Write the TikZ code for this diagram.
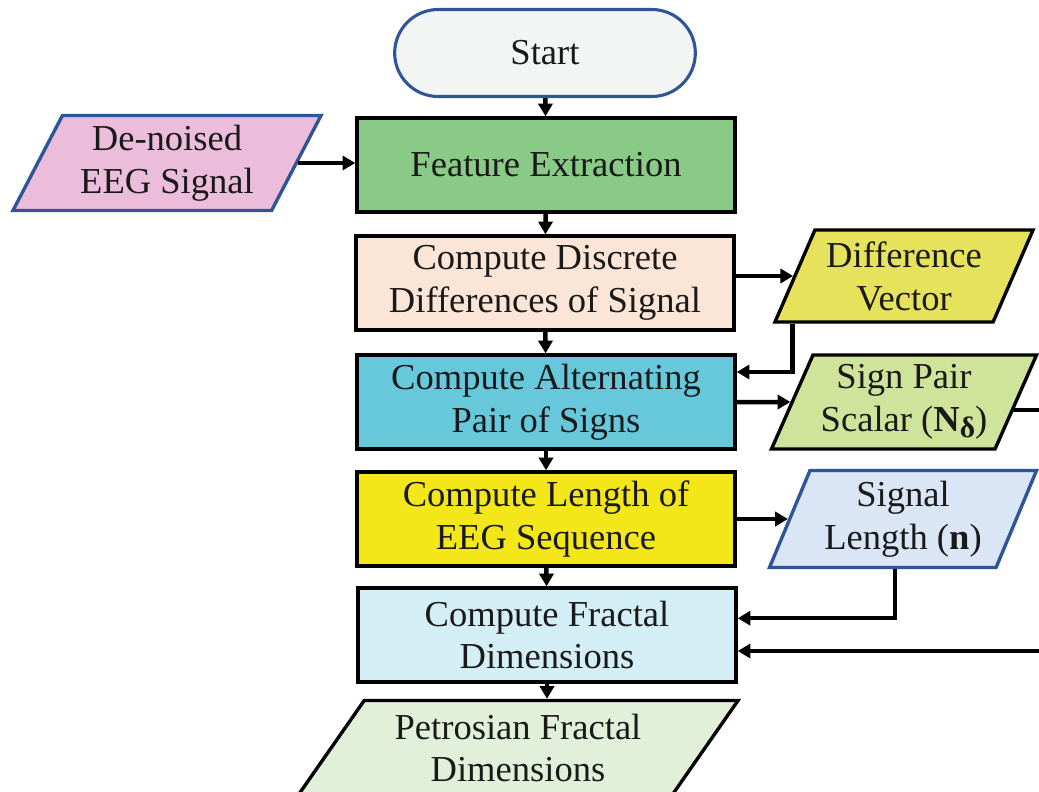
\documentclass[tikz,border=0pt]{standalone}
\usepackage{fontspec}
\setmainfont{Liberation Serif}
\usetikzlibrary{shapes.geometric,shapes.misc,arrows.meta}
\definecolor{edgeblue}{HTML}{2F5597}
\definecolor{startfill}{HTML}{F3F5F5}
\definecolor{pinkfill}{HTML}{EBBDDA}
\definecolor{greenfill}{HTML}{89CA86}
\definecolor{peachfill}{HTML}{FBE5D6}
\definecolor{olivefill}{HTML}{E6E25C}
\definecolor{cyanfill}{HTML}{67C8DC}
\definecolor{limefill}{HTML}{CFE39A}
\definecolor{yellowfill}{HTML}{F3E71A}
\definecolor{skyfill}{HTML}{DAE5F5}
\definecolor{icefill}{HTML}{D4EEF5}
\definecolor{mintfill}{HTML}{E2F0D9}
\definecolor{inktext}{HTML}{1A1A1A}
\begin{document}
\begin{tikzpicture}[x=0.025cm,y=-0.025cm]
    \tikzset{procbox/.style={draw,line width=2.4pt,fill=#1,minimum width=9.45cm,minimum height=2.35cm,
        inner sep=0pt,align=center,text=inktext,font=\fontsize{26}{30.5}\selectfont},
      iobox/.style={trapezium,trapezium stretches body,draw,line width=2.4pt,inner sep=0pt,
        align=center,text=inktext,font=\fontsize{26}{30.5}\selectfont},
      conn/.style={line width=3.2pt,-{Triangle[length=9pt,width=10pt]}},
      link/.style={line width=3.2pt}
    }
    \clip (0,0) rectangle (1039,791);
    \node [draw=edgeblue,fill=startfill,line width=2.2pt,rounded rectangle,minimum width=7.75cm,
      minimum height=2.175cm,text=inktext,font=\fontsize{26}{30.5}\selectfont] (start) at (545,53) {Start};
    \node [procbox=greenfill] (fe) at (546,165) {Feature Extraction};
    \node [procbox=peachfill] (cdd) at (545,283) {Compute Discrete\\Differences of Signal};
    \node [procbox=cyanfill] (cap) at (546,402) {Compute Alternating\\Pair of Signs};
    \node [procbox=yellowfill] (cl) at (546,519) {Compute Length of\\EEG Sequence};
    \node [procbox=icefill] (cfd) at (547,635) {Compute Fractal\\Dimensions};

    \node [iobox,draw=edgeblue,fill=pinkfill,trapezium left angle=57,trapezium right angle=123,
      minimum width=7.7cm,minimum height=2.375cm] (den) at (167,163) {De-noised\\EEG Signal};
    \node [iobox,fill=olivefill,trapezium left angle=60,trapezium right angle=120,
      minimum width=6.45cm,minimum height=2.3cm] (dv) at (904,276) {Difference\\Vector};
    \node [iobox,fill=limefill,trapezium left angle=61,trapezium right angle=119,
      minimum width=6.625cm,minimum height=2.35cm] (sps) at (904,402)
      {Sign Pair\\Scalar (\textbf{N}\raisebox{-0.35ex}{\fontsize{21}{21}\selectfont\textbf{δ}})};
    \node [iobox,draw=edgeblue,fill=skyfill,trapezium left angle=62,trapezium right angle=118,
      minimum width=6.675cm,minimum height=2.425cm] (sl) at (903,519) {Signal\\Length (\textbf{n})};
    \node [iobox,fill=mintfill,trapezium left angle=46,trapezium right angle=134,
      minimum width=11cm,minimum height=2.375cm] (pfd) at (518,748) {Petrosian Fractal\\Dimensions};

    \coordinate (spsout) at (1050,410);
    \coordinate (fdin) at (1050,651);

    \draw [conn] (start) -- (fe);
    \draw [conn] (den.east) -- (fe.west |- den.east);
    \draw [conn] (fe) -- (cdd);
    \draw [conn] (cdd) -- (cap);
    \draw [conn] (cap) -- (cl);
    \draw [conn] (cl) -- (cfd);
    \draw [conn] (cfd.south) -- (cfd.south |- pfd.north);
    \draw [conn] (cdd.east |- dv.west) -- (dv.west);
    \draw [conn] ([xshift=0.5cm]dv.bottom left corner) |- ([yshift=0.75cm]cap.east);
    \draw [conn] (cap.east) -- (sps.west);
    \draw [link] ([xshift=-4pt]sps.east |- spsout) -- (spsout);
    \draw [conn] (cl.east |- sl.west) -- (sl.west);
    \draw [conn] ([xshift=-0.2cm]sl.south) |- ([yshift=0.42cm]cfd.east);
    \draw [conn] (fdin) -- (cfd.east |- fdin);
\end{tikzpicture}
\end{document}
